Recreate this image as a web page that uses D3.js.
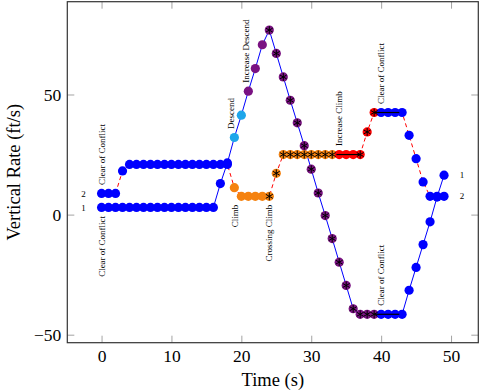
<!DOCTYPE html>
<html>
<head>
<meta charset="utf-8">
<script src="https://cdn.jsdelivr.net/npm/d3@7/dist/d3.min.js"></script>
<style>
body { margin: 0; background: #fff; }
svg { display: block; }
text { font-family: "Liberation Serif", "Times New Roman", serif; fill: #000; }
</style>
</head>
<body>
<svg id="chart" width="480" height="392"></svg>
<script>
// time in seconds, one sample per second
var times = [0, 1, 2, 3, 4, 5, 6, 7, 8, 9, 10, 11, 12, 13, 14, 15, 16, 17, 18, 19,
             20, 21, 22, 23, 24, 25, 26, 27, 28, 29, 30, 31, 32, 33, 34, 35, 36, 37, 38, 39,
             40, 41, 42, 43, 44, 45, 46, 47, 48, 49];

// vertical rate of aircraft 1 and 2 (ft/s)
var rate1 = [3, 3, 3, 3, 3, 3, 3, 3, 3, 3, 3, 3, 3, 3, 3, 3, 3, 12.9, 21.5, 32.1,
             41.4, 51.4, 60.8, 70.7, 76.8, 67.1, 57.3, 47.6, 38.2, 28.7, 18.9, 9, -0.4, -10, -19.8, -29.5, -39.2, -41.5, -41.5, -41.5,
             -41.5, -41.5, -41.5, -41.5, -31.5, -22, -12.5, -3, 7.3, 16.4];
var rate2 = [8.8, 8.8, 8.8, 18.2, 20.9, 20.9, 20.9, 20.9, 20.9, 20.9, 20.9, 20.9, 20.9, 20.9, 20.9, 20.9, 20.9, 20.9, 20.9, 11.2,
             7.6, 7.6, 7.6, 7.6, 7.6, 17.2, 25, 25, 25, 25, 25, 25, 25, 25, 25, 25, 25, 25, 34.4, 42.5,
             42.5, 42.5, 42.5, 42.5, 33, 23.3, 13.6, 7.6, 7.6, 7.6];

// advisory phases: [first second, last second, advisory]
var phases1 = [[0, 18, "coc"], [19, 20, "descend"], [21, 39, "incDescend"], [40, 49, "coc"]];
var phases2 = [[0, 18, "coc"], [19, 23, "climb"], [24, 33, "crossClimb"], [34, 39, "incClimb"], [40, 49, "coc"]];

// seconds where an asterisk is drawn over the marker
var starTimes1 = [24, 25, 26, 27, 28, 29, 30, 31, 32, 33, 34, 35, 36, 37, 38, 39];
var starTimes2 = [24, 25, 26, 27, 28, 29, 30, 31, 32, 33, 37, 38, 39];

// black hold segments: [from s, to s, rate]
var holds = [[33.6, 37, 25], [39, 42.6, 42.5], [39, 42.6, -41.5]];

// advisory annotations: [text, time, rate, side]
var notes = [
    ["Clear of Conflict", 0, 8.8, "above"],
    ["Clear of Conflict", 0, 3, "below"],
    ["Descend", 18.5, 32.1, "above"],
    ["Increase Descend", 20.6, 51.4, "above"],
    ["Climb", 19, 7.6, "below"],
    ["Crossing Climb", 24, 7.6, "below"],
    ["Increase Climb", 34, 25, "above"],
    ["Clear of Conflict", 40, 42.5, "above"],
    ["Clear of Conflict", 40, -41.5, "above"]
];

var xTicks = [0, 10, 20, 30, 40, 50];
var yTicks = [-50, 0, 50];

var colors = {
    coc: "#0000ff",
    descend: "#1ea6ea",
    incDescend: "#7a1282",
    climb: "#f5820f",
    crossClimb: "#f5820f",
    incClimb: "#ff0000"
};

(function () {
    var svg = d3.select("#chart");
    var plotLeft = 67.3, plotRight = 478.3, plotTop = 1.7, plotBottom = 342.7;

    function pad(ext) {
        var r = ext[1] - ext[0];
        return [ext[0] - 0.1 * r, ext[1] + 0.1 * r];
    }

    var x = d3.scaleLinear()
        .domain(pad(d3.extent(times)))
        .range([plotLeft, plotRight]);

    var y = d3.scaleLinear()
        .domain(pad(d3.extent(rate1.concat(rate2))))
        .range([plotBottom, plotTop]);

    function phaseOf(phases, t) {
        for (var i = 0; i < phases.length; i++) {
            if (t >= phases[i][0] && t <= phases[i][1]) return phases[i][2];
        }
        return "coc";
    }

    function points(rates, phases, stars) {
        return times.map(function(t, i) {
            return { t: t, v: rates[i], adv: phaseOf(phases, t), star: stars.indexOf(t) >= 0 };
        });
    }

    var pts1 = points(rate1, phases1, starTimes1);
    var pts2 = points(rate2, phases2, starTimes2);

    // axes (ticks inside on all four sides)
    function styleAxis(g) {
        g.select(".domain").remove();
        g.selectAll(".tick line").attr("stroke", "#8c8c8c").attr("stroke-width", 0.8);
        g.selectAll(".tick text").attr("font-family", "Liberation Serif, serif").attr("font-size", 17.5);
    }

    svg.append("g")
        .attr("transform", "translate(0," + plotBottom + ")")
        .call(d3.axisBottom(x).tickValues(xTicks).tickSize(-7).tickPadding(7))
        .call(styleAxis);

    svg.append("g")
        .attr("transform", "translate(0," + plotTop + ")")
        .call(d3.axisTop(x).tickValues(xTicks).tickSize(-7).tickFormat(""))
        .call(styleAxis);

    svg.append("g")
        .attr("transform", "translate(" + plotLeft + ",0)")
        .call(d3.axisLeft(y).tickValues(yTicks).tickSize(-7).tickPadding(6).tickFormat(d3.format("d")))
        .call(styleAxis);

    svg.append("g")
        .attr("transform", "translate(" + plotRight + ",0)")
        .call(d3.axisRight(y).tickValues(yTicks).tickSize(-7).tickFormat(""))
        .call(styleAxis);

    svg.append("rect")
        .attr("x", plotLeft).attr("y", plotTop)
        .attr("width", plotRight - plotLeft).attr("height", plotBottom - plotTop)
        .attr("fill", "none").attr("stroke", "#333").attr("stroke-width", 1.2);

    svg.append("text")
        .attr("x", (plotLeft + plotRight) / 2).attr("y", 386)
        .attr("text-anchor", "middle")
        .attr("font-size", 18.5)
        .text("Time (s)");

    svg.append("text")
        .attr("transform", "translate(20," + (plotTop + plotBottom) / 2 + ") rotate(-90)")
        .attr("text-anchor", "middle")
        .attr("font-size", 18.5)
        .text("Vertical Rate (ft/s)");

    // lines
    var line = d3.line().x(function(d) { return x(d.t); }).y(function(d) { return y(d.v); });

    svg.append("path").datum(pts1)
        .attr("d", line).attr("fill", "none")
        .attr("stroke", "#0000ff").attr("stroke-width", 1);

    svg.append("path").datum(pts2)
        .attr("d", line).attr("fill", "none")
        .attr("stroke", "#ff0000").attr("stroke-width", 1)
        .attr("stroke-dasharray", "4,3");

    // markers: aircraft 2 first, aircraft 1 on top
    function drawMarkers(pts) {
        var g = svg.append("g");
        g.selectAll("circle").data(pts).enter().append("circle")
            .attr("cx", function(d) { return x(d.t); })
            .attr("cy", function(d) { return y(d.v); })
            .attr("r", 4.6)
            .attr("fill", function(d) { return colors[d.adv]; });
        var arm = 4;
        var starPath = "";
        [90, 30, -30].forEach(function(a) {
            var r = a * Math.PI / 180, dx = arm * Math.cos(r), dy = arm * Math.sin(r);
            starPath += "M" + (-dx) + "," + (-dy) + "L" + dx + "," + dy;
        });
        g.selectAll("path.star").data(pts.filter(function(d) { return d.star; })).enter()
            .append("path").attr("class", "star")
            .attr("transform", function(d) { return "translate(" + x(d.t) + "," + y(d.v) + ")"; })
            .attr("d", starPath)
            .attr("stroke", "#000").attr("stroke-width", 1);
    }
    drawMarkers(pts2);
    drawMarkers(pts1);

    svg.selectAll("line.hold").data(holds).enter().append("line")
        .attr("class", "hold")
        .attr("x1", function(d) { return x(d[0]); })
        .attr("x2", function(d) { return x(d[1]); })
        .attr("y1", function(d) { return y(d[2]); })
        .attr("y2", function(d) { return y(d[2]); })
        .attr("stroke", "#000").attr("stroke-width", 1.2);

    // advisory annotations, rotated
    svg.selectAll("text.note").data(notes).enter().append("text")
        .attr("class", "note")
        .attr("transform", function(d) {
            var py = y(d[2]) + (d[3] === "above" ? -8.5 : 8.5);
            return "translate(" + x(d[1]) + "," + py + ") rotate(-90)";
        })
        .attr("text-anchor", function(d) { return d[3] === "above" ? "start" : "end"; })
        .attr("dy", "0.35em")
        .attr("font-size", 9)
        .attr("fill", "#000")
        .text(function(d) { return d[0]; });

    // aircraft number tags at both ends
    var first = 0, last = times.length - 1;
    var tags = [["1", rate1], ["2", rate2]];
    tags.forEach(function(tg) {
        svg.append("text")
            .attr("x", x(times[first]) - 18).attr("y", y(tg[1][first]))
            .attr("dy", "0.35em").attr("text-anchor", "middle")
            .attr("fill", "#000")
            .attr("font-size", 9).text(tg[0]);
        svg.append("text")
            .attr("x", x(times[last]) + 18).attr("y", y(tg[1][last]))
            .attr("dy", "0.35em").attr("text-anchor", "middle")
            .attr("fill", "#000")
            .attr("font-size", 9).text(tg[0]);
    });
})();
</script>
</body>
</html>
